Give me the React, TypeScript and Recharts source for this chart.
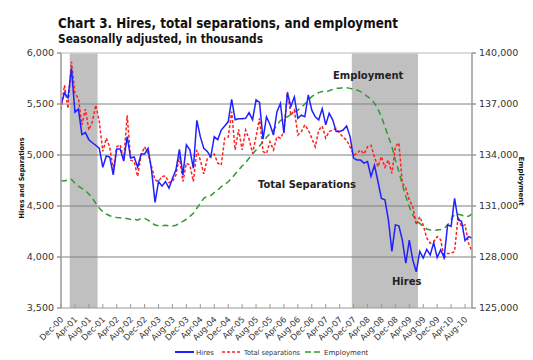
import React from 'react';
import { LineChart, Line, XAxis, YAxis, ReferenceArea, ReferenceLine } from 'recharts';

// Monthly series, Dec-00 .. Oct-10 (thousands)
const hires = [
  5490, 5610, 5560, 5850, 5420, 5450, 5200, 5220, 5150, 5120, 5095, 5065,
  4880, 4990, 4980, 4805, 5060, 5060, 4940, 5180, 4970, 4980, 4880, 5010,
  5010, 5065, 4850, 4535, 4740, 4695, 4740, 4675, 4770, 4855, 5055, 4805,
  5100, 5050, 4870, 5340, 5180, 5065, 5035, 4980, 5180, 5150, 5245, 5285,
  5325, 5545, 5345, 5355, 5355, 5360, 5415, 5345, 5540, 5515, 5155, 5375,
  5300, 5195, 5425, 5505, 5215, 5610, 5475, 5570, 5360, 5390, 5375, 5590,
  5440, 5375, 5345, 5455, 5295, 5410, 5345, 5230, 5230, 5245, 5285, 5180,
  4970, 4950, 4950, 4920, 4935, 4790, 4900, 4740, 4575, 4560, 4365, 4055,
  4315, 4305, 4165, 3940, 4165, 3970, 3855, 4055, 3990, 4075, 4020, 4140,
  3995, 4070, 3995, 4315, 4300, 4575, 4365, 4350, 4160, 4200, 4185,
];

const separations = [
  5440, 5685, 5455, 5915, 5605, 5555, 5295, 5450, 5245, 5325, 5490, 5325,
  5035, 5165, 5080, 4855, 5080, 5100, 4950, 5390, 4950, 4935, 4790, 5000,
  5080, 5015, 4885, 4755, 4740, 4790, 4795, 4730, 4740, 4805, 4985, 4740,
  4920, 4900, 4740, 5050, 4950, 4815, 4965, 4990, 5010, 4920, 4900, 5165,
  5175, 5425, 5050, 5250, 5050, 5245, 5155, 5015, 5180, 5360, 5035, 5015,
  5130, 5050, 5180, 5165, 5230, 5620, 5390, 5440, 5195, 5230, 5295, 5245,
  5165, 5080, 5245, 5285, 5165, 5230, 5245, 5260, 5215, 5175, 5145, 5080,
  5000, 5015, 5050, 5010, 5080, 5095, 4980, 4885, 4985, 4880, 4950, 4820,
  5080, 5120, 4725, 4675, 4560, 4495, 4315, 4395, 4315, 4185, 4135, 4150,
  4200, 4170, 3990, 4035, 4035, 4055, 4395, 4300, 4315, 4135, 4055,
];

const employment = [
  132490, 132470, 132530, 132570, 132330, 132170, 132040, 131900, 131710, 131450, 131160, 130870,
  130670, 130530, 130430, 130370, 130330, 130310, 130270, 130270, 130210, 130240, 130170, 130270,
  130270, 130170, 130020, 129880, 129840, 129840, 129870, 129830, 129830, 129870, 129990, 130100,
  130220, 130390, 130570, 130870, 131160, 131450, 131570, 131620, 131790, 131940, 132140, 132240,
  132430, 132630, 132880, 133110, 133350, 133550, 133810, 134060, 134300, 134530, 134780, 135040,
  135250, 135470, 135760, 136020, 136150, 136250, 136390, 136550, 136640, 136800, 137000, 137240,
  137430, 137570, 137670, 137730, 137730, 137780, 137860, 137920, 137920, 137960, 137960, 137920,
  137860, 137820, 137730, 137590, 137430, 137300, 137040, 136700, 136250, 135670, 135080, 134490,
  133710, 133030, 132240, 131570, 130960, 130470, 130140, 129980, 129790, 129650, 129590, 129560,
  129590, 129620, 129680, 129890, 130180, 130530, 130510, 130470, 130390, 130390, 130530,
];

const monthNames = ['Jan', 'Feb', 'Mar', 'Apr', 'May', 'Jun', 'Jul', 'Aug', 'Sep', 'Oct', 'Nov', 'Dec'];
const startYear = 2000;
const startMonth = 11; // December
const months = hires.map((_, i) => {
  const t = startMonth + i;
  const y = startYear + Math.floor(t / 12);
  return `${monthNames[t % 12]}-${String(y % 100).padStart(2, '0')}`;
});

const leftTicks = [3500, 4000, 4500, 5000, 5500, 6000];
const rightTicks = [125000, 128000, 131000, 134000, 137000, 140000];
const gridValues = [4000, 4500, 5000, 5500];
const recessions: [string, string][] = [['Mar-01', 'Oct-01'], ['Dec-07', 'Jun-09']];
const xTicks = months.map((_, i) => i).filter((i) => i % 4 === 0);

const data = months.map((m, i) => ({
  idx: i,
  month: m,
  hires: hires[i],
  separations: separations[i],
  employment: employment[i],
}));

const FONT = "'DejaVu Sans', Verdana, sans-serif";
const fmt = (v: number) => v.toLocaleString('en-US');

const XTick = (props: any) => {
  const { x, y, payload } = props;
  const tx = x + 3;
  const ty = y + 12;
  return (
    <g>
      <line x1={x} y1={y - 4} x2={x} y2={y} stroke="#999" strokeWidth={1} />
      <text
        x={tx}
        y={ty}
        transform={`rotate(-45 ${tx} ${ty})`}
        textAnchor="end"
        fontSize={8.3}
        fontFamily={FONT}
        fill="#333"
      >
        {months[payload.value]}
      </text>
    </g>
  );
};

export default function App() {
  return (
    <div style={{ position: 'absolute', left: 0, top: 0, width: 533, height: 360, background: '#fff' }}>
      <LineChart
        width={533}
        height={360}
        data={data}
        margin={{ top: 53, right: 0, bottom: 0, left: 0 }}
      >
        <XAxis
          dataKey="idx"
          type="number"
          domain={[0, months.length - 1]}
          ticks={xTicks}
          tick={<XTick />}
          tickLine={false}
          tickSize={0}
          tickMargin={0}
          height={52}
          stroke="#999"
          interval={0}
          allowDataOverflow
        />
        <YAxis
          yAxisId="left"
          domain={[3500, 6000]}
          ticks={leftTicks}
          tickFormatter={fmt}
          width={61}
          tickSize={4}
          tickMargin={3}
          stroke="#999"
          strokeWidth={1.5}
          tick={{ fontSize: 9.5, fontFamily: FONT, fill: '#333' }}
          interval={0}
        />
        <YAxis
          yAxisId="right"
          orientation="right"
          domain={[125000, 140000]}
          ticks={rightTicks}
          tickFormatter={fmt}
          width={61}
          tickSize={4}
          tickMargin={3}
          stroke="#999"
          strokeWidth={1.5}
          tick={{ fontSize: 9.5, fontFamily: FONT, fill: '#333' }}
          interval={0}
        />
        {recessions.map(([a, b], i) => (
          <ReferenceArea
            key={`rec${i}`}
            yAxisId="left"
            x1={months.indexOf(a) - 0.5}
            x2={months.indexOf(b) + 0.5}
            fill="#c0c0c0"
            fillOpacity={1}
            stroke="none"
          />
        ))}
        <ReferenceLine yAxisId="left" y={6000} stroke="#d0d0d0" strokeWidth={1.5} />
        {gridValues.map((v) => (
          <ReferenceLine key={v} yAxisId="left" y={v} stroke="#808080" strokeWidth={1} />
        ))}
        <Line
          yAxisId="right"
          dataKey="employment"
          stroke="#339933"
          strokeWidth={1.5}
          strokeDasharray="6 4"
          dot={false}
          isAnimationActive={false}
        />
        <Line
          yAxisId="left"
          dataKey="separations"
          stroke="#ff2020"
          strokeWidth={1.5}
          strokeDasharray="3 2"
          dot={false}
          isAnimationActive={false}
        />
        <Line
          yAxisId="left"
          dataKey="hires"
          stroke="#2020ff"
          strokeWidth={1.5}
          dot={false}
          isAnimationActive={false}
        />
      </LineChart>
      <svg
        width={533}
        height={360}
        style={{ position: 'absolute', left: 0, top: 0, pointerEvents: 'none' }}
      >
        <text x={58} y={28} fontSize={14} fontWeight="bold" fontFamily={FONT} fill="#111" textLength={340} lengthAdjust="spacingAndGlyphs">
          Chart 3. Hires, total separations, and employment
        </text>
        <text x={58} y={43} fontSize={11.5} fontWeight="bold" fontFamily={FONT} fill="#111" textLength={205} lengthAdjust="spacingAndGlyphs">
          Seasonally adjusted, in thousands
        </text>
        <text
          x={0}
          y={0}
          transform="translate(24 178) rotate(-90)"
          textAnchor="middle"
          fontSize={7}
          fontWeight="bold"
          fontFamily={FONT}
          fill="#111"
          textLength={81}
          lengthAdjust="spacingAndGlyphs"
        >
          Hires and Separations
        </text>
        <text
          x={0}
          y={0}
          transform="translate(519 181) rotate(90)"
          textAnchor="middle"
          fontSize={7}
          fontWeight="bold"
          fontFamily={FONT}
          fill="#111"
        >
          Employment
        </text>
        <text x={333} y={79} fontSize={10} fontWeight="bold" fontFamily={FONT} fill="#222">Employment</text>
        <text x={258} y={188} fontSize={10} fontWeight="bold" fontFamily={FONT} fill="#222" textLength={98} lengthAdjust="spacingAndGlyphs">Total Separations</text>
        <text x={392} y={285} fontSize={10} fontWeight="bold" fontFamily={FONT} fill="#222">Hires</text>
        {/* legend */}
        <line x1={175} y1={352} x2={194} y2={352} stroke="#2020ff" strokeWidth={2} />
        <text x={196} y={355} fontSize={7} fontFamily={FONT} fill="#333">Hires</text>
        <line x1={222} y1={352} x2={242} y2={352} stroke="#ff2020" strokeWidth={1.5} strokeDasharray="3 2" />
        <text x={244} y={355} fontSize={7} fontFamily={FONT} fill="#333" textLength={56} lengthAdjust="spacingAndGlyphs">Total separations</text>
        <line x1={305} y1={352} x2={322} y2={352} stroke="#339933" strokeWidth={1.5} strokeDasharray="6 3" />
        <text x={324} y={355} fontSize={7} fontFamily={FONT} fill="#333">Employment</text>
      </svg>
    </div>
  );
}
